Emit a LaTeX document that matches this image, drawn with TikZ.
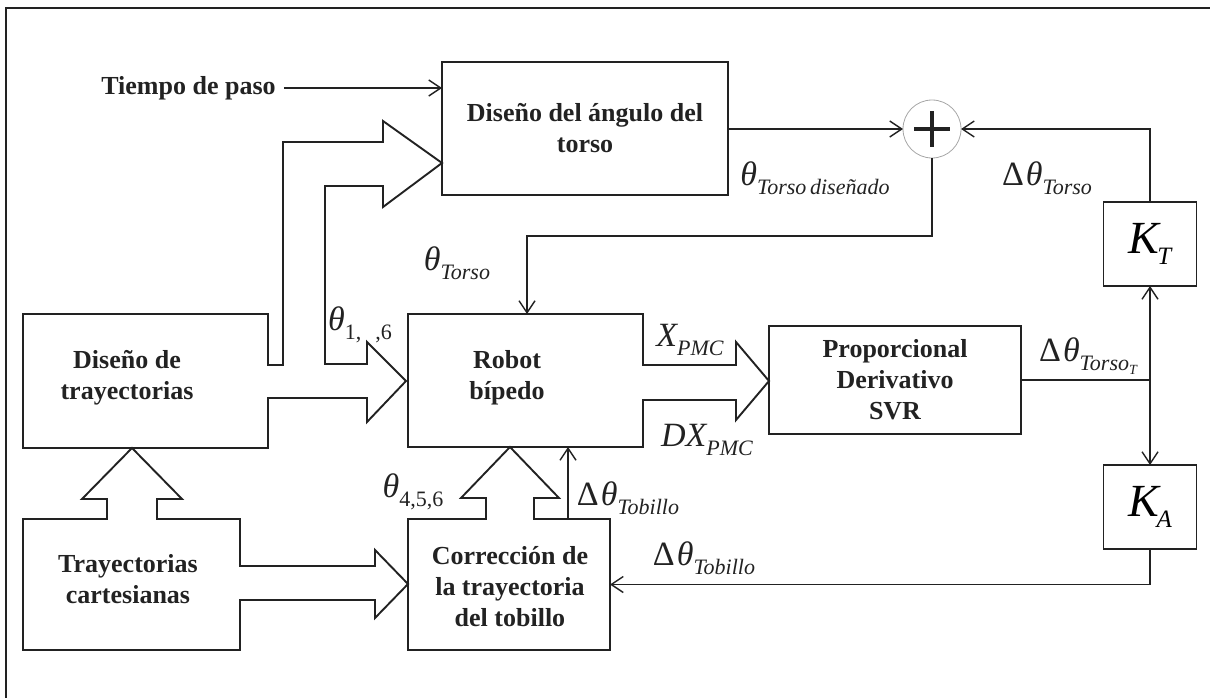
\documentclass[tikz,border=0pt]{standalone}
\usepackage{fontspec}
\setmainfont{Liberation Serif}
\usetikzlibrary{arrows.meta}
\newcommand\bigf{\fontsize{34}{34}\selectfont}
\newcommand\subf{\fontsize{22}{22}\selectfont}
\newcommand\lsub[1]{\raisebox{-9pt}{\subf\itshape #1}}
\newcommand\lsubup[1]{\raisebox{-9pt}{\subf #1}}
\newcommand\dth{{\bigf Δ\kern2pt\itshape θ}}
\newcommand\gain[2]{{\fontsize{46}{46}\selectfont\itshape #1}\kern-2pt\raisebox{-11pt}{\fontsize{25}{25}\selectfont\itshape #2}}
\definecolor{ink}{HTML}{222222}
\tikzset{
  btxt/.style={font=\bfseries\fontsize{26}{31}\selectfont, align=center, inner sep=0pt, text=ink},
  lbl/.style={inner sep=0pt, text=ink},
  rbox/.style={draw=ink, line width=1.6pt, inner sep=0pt, outer sep=0pt},
  geo/.style={inner sep=0pt, outer sep=0pt},
  fat/.style={draw=ink, line width=1.9pt, line join=miter},
  arr/.style={draw=ink, line width=1.4pt, -{Straight Barb[length=12pt,width=16pt,line width=1.4pt]}},
  arrboth/.style={draw=ink, line width=1.4pt, {Straight Barb[length=12pt,width=16pt,line width=1.4pt]}-{Straight Barb[length=12pt,width=16pt,line width=1.4pt]}},
  wire/.style={draw=ink, line width=1.4pt}
}
\begin{document}
\begin{tikzpicture}[x=1pt,y=-1pt]
\useasboundingbox (0,0) rectangle (1210,698);
% frame
\draw[ink, line width=1.3pt] (6,698) -- (6,8) -- (1210,8);

% geometry nodes
\node[rbox, minimum width=286pt, minimum height=133pt, btxt] (dang) at (585,128.5) {Diseño del ángulo del\\torso};
\node[geo, minimum width=245pt, minimum height=134pt] (trajbox) at (145.5,381) {};
\node[geo, minimum width=217pt, minimum height=131pt] (cartbox) at (131.5,584.5) {};
\node[geo, minimum width=235pt, minimum height=133pt] (robotbox) at (525.5,380.5) {};
\node[geo, minimum width=202pt, minimum height=131pt] (corrbox) at (509,584.5) {};
\node[rbox, minimum width=252pt, minimum height=108pt, btxt] (pd) at (895,380) {Proporcional\\Derivativo\\SVR};
\node[rbox, minimum width=93pt, minimum height=84pt] (kt) at (1150,244) {\gain{K}{T}};
\node[rbox, minimum width=93pt, minimum height=84pt] (ka) at (1150,507) {\gain{K}{A}};
\node[circle, draw=gray!70, line width=0.8pt, minimum size=58pt, inner sep=0pt, outer sep=0pt] (sum) at (932,129) {};
\draw[ink, line width=4pt] ([xshift=-18pt]sum.center) -- ([xshift=18pt]sum.center);
\draw[ink, line width=4pt] ([yshift=-18pt]sum.center) -- ([yshift=18pt]sum.center);

% box texts
\node[btxt] (tiempo) at (188.5,88) {Tiempo de paso};
\node[btxt] (traj) at (127,378) {Diseño de\\trayectorias};
\node[btxt] (cart) at (128,579) {Trayectorias\\cartesianas};
\node[btxt] (robot) at (507,378) {Robot\\bípedo};
\node[btxt] (corr) at (510,587) {Corrección de\\la trayectoria\\del tobillo};

% fat-arrow outlines
\draw[fat] (23,314) -- (268,314) -- (268,365) -- (283,365) -- (283,142) -- (383,142) -- (383,121)
  -- (442,163) -- (383,207) -- (383,186) -- (325,186) -- (325,364) -- (367,364) -- (367,342)
  -- (406,381) -- (367,422) -- (367,398) -- (268,398) -- (268,448) -- (23,448) -- cycle;
\draw[fat] (408,314) -- (643,314) -- (643,365) -- (736,365) -- (736,342) -- (769,381)
  -- (736,420) -- (736,400) -- (643,400) -- (643,447) -- (408,447) -- cycle;
\draw[fat] (23,519) -- (107,519) -- (107,499) -- (82,499) -- (132,448) -- (182,499) -- (157,499)
  -- (157,519) -- (240,519) -- (240,566) -- (375,566) -- (375,550) -- (408,584) -- (375,618)
  -- (375,600) -- (240,600) -- (240,650) -- (23,650) -- cycle;
\draw[fat] (408,519) -- (486,519) -- (486,498) -- (461,498) -- (510,447) -- (559,498) -- (534,498)
  -- (534,519) -- (610,519) -- (610,650) -- (408,650) -- cycle;

% thin connectors
\draw[arr] ([xshift=8pt]tiempo.east) -- (tiempo.east -| dang.west);
\draw[arr] (dang.east |- sum.west) -- (sum.west);
\draw[arr] (kt.north) |- (sum.east);
\coordinate (tr) at (527,236);
\draw[arr] (sum.south) |- (tr) -- (tr |- robotbox.north);
\draw[wire] (pd.east) -- (pd.east -| kt.south);
\draw[arrboth] (kt.south) -- (ka.north);
\draw[arr] (ka.south) |- (corrbox.east);
\coordinate (dt) at (568,0);
\draw[arr] (corrbox.north -| dt) -- (robotbox.south -| dt);

% labels
\node[lbl] (l1) at (815,178) {{\bigf\itshape θ}\lsub{Torso\,diseñado}};
\node[lbl] (l2) at (1047,178) {\dth\lsub{Torso}};
\node[lbl] (l3) at (457,263) {{\bigf\itshape θ}\lsub{Torso}};
\node[lbl] (l4) at (360,325) {{\bigf\itshape θ}\lsubup{1,\hspace{14pt},6}};
\node[lbl] (l5) at (690,340) {{\bigf\itshape X}\lsub{PMC}};
\node[lbl] (l6) at (707,440) {{\bigf\itshape DX}\lsub{PMC}};
\node[lbl] (l7) at (413,492) {{\bigf\itshape θ}\lsubup{4,5,6}};
\node[lbl] (l8) at (628,498) {\dth\lsub{Tobillo}};
\node[lbl] (l9) at (704,558) {\dth\lsub{Tobillo}};
\node[lbl] (l10) at (1088,356) {\dth\lsub{Torso\raisebox{-4pt}{\fontsize{14}{14}\selectfont T}}};
\end{tikzpicture}
\end{document}
